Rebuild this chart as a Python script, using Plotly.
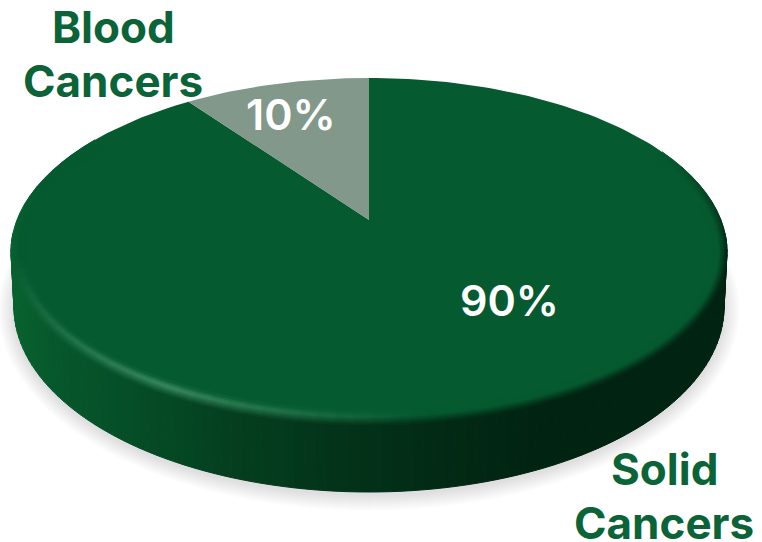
import math
import plotly.graph_objects as go

# Chart data
categories = [["Solid", "Cancers"], ["Blood", "Cancers"]]
shares = [90, 10]
slice_colors = ["#065a30", "#82988a"]
label_color = "#0b6338"

# Disc geometry in pixel-like axis units
CX, CY_APEX = 369.0, 220.0
TOP_EDGE, BOTTOM_EDGE = 78.0, 425.0
HALF_W = 358.0
CY = (TOP_EDGE + BOTTOM_EDGE) / 2
HALF_H = (BOTTOM_EDGE - TOP_EDGE) / 2
BASE_CY, BASE_W, BASE_H = 307.0, 355.0, 185.0

up, down = CY_APEX - TOP_EDGE, BOTTOM_EDGE - CY_APEX
K = (down - up) / (down + up)
B = up * (1 + K)
A = HALF_W * math.sqrt(1 - K * K)


def project(theta):
    """Clockwise angle from twelve o'clock to a point on the tilted top face."""
    x, y = math.sin(theta), math.cos(theta)
    w = 1 + K * y
    return CX + A * x / w, CY_APEX - B * y / w


def hex_rgb(c):
    return tuple(int(c[i:i + 2], 16) for i in (1, 3, 5))


def mix(a, b, f):
    f = max(0.0, min(1.0, f))
    return tuple(a[i] + (b[i] - a[i]) * f for i in range(3))


def css(c):
    return "rgb(%d,%d,%d)" % tuple(round(v) for v in c)


def ramp(stops, x):
    if x <= stops[0][0]:
        return hex_rgb(stops[0][1])
    for (x0, c0), (x1, c1) in zip(stops, stops[1:]):
        if x <= x1:
            return mix(hex_rgb(c0), hex_rgb(c1), (x - x0) / (x1 - x0))
    return hex_rgb(stops[-1][1])


WALL_STOPS = [(10, "#08622f"), (60, "#06572b"), (140, "#054c26"), (230, "#043f1f"),
              (330, "#03341a"), (440, "#022a15"), (540, "#012312"), (730, "#012312")]
FACE = hex_rgb(slice_colors[0])
HIGHLIGHT = hex_rgb("#3a8a60")

fig = go.Figure()


def polygon(xs, ys, fill, line=None):
    fig.add_trace(go.Scatter(
        x=xs, y=ys, mode="lines", fill="toself", fillcolor=fill,
        line=dict(color=line or "rgba(0,0,0,0)", width=1 if line else 0),
        hoverinfo="skip", showlegend=False))


# Soft ground shadow under the disc
for s in range(16, 0, -1):
    ts = [2 * math.pi * i / 120 for i in range(121)]
    polygon([CX + (BASE_W + s) * math.cos(t) for t in ts],
            [BASE_CY + 3 + (BASE_H + s) * math.sin(t) for t in ts],
            "rgba(0,0,0,0.009)")

# Cylinder wall, drawn as narrow strips shaded by horizontal position
N_WALL = 110
for i in range(N_WALL):
    t0 = math.radians(-6 + 192 * i / N_WALL)
    t1 = math.radians(-6 + 192 * (i + 1) / N_WALL)
    xs = [CX + HALF_W * math.cos(t0), CX + HALF_W * math.cos(t1),
          CX + BASE_W * math.cos(t1), CX + BASE_W * math.cos(t0)]
    ys = [CY + HALF_H * math.sin(t0), CY + HALF_H * math.sin(t1),
          BASE_CY + BASE_H * math.sin(t1), BASE_CY + BASE_H * math.sin(t0)]
    c = css(ramp(WALL_STOPS, sum(xs) / 4))
    polygon(xs + xs[:1], ys + ys[:1], c, c)

# Top face slices, running clockwise from twelve o'clock
total = sum(shares)
start = 0.0
for value, color in zip(shares, slice_colors):
    sweep = 2 * math.pi * value / total
    n = max(8, int(240 * value / total))
    pts = [project(start + sweep * j / n) for j in range(n + 1)]
    polygon([CX] + [p[0] for p in pts] + [CX], [CY_APEX] + [p[1] for p in pts] + [CY_APEX], color)
    start += sweep


def bevel_strength(t_deg):
    """How much of the rim lighting applies around the lower edge."""
    if t_deg < 0:
        return max(0.0, 1 + t_deg / 35)
    if t_deg > 185:
        return max(0.0, 1 - (t_deg - 185) / 35)
    return 1.0


def highlight_amount(t_deg):
    # Brightest along the front left of the rim
    if t_deg < 82 or t_deg > 178:
        return 0.0
    if t_deg < 125:
        return (t_deg - 82) / 43
    return (178 - t_deg) / 53


# Bevelled rim: thin ring sectors blending wall, highlight and face colours
PEAK_D = 9.0
FADE_D = 6.0
D_STEPS = 8
T_STEPS = 84
T_FROM, T_TO = -35.0, 220.0
for k in range(D_STEPS):
    d0 = (PEAK_D + FADE_D) * k / D_STEPS
    d1 = (PEAK_D + FADE_D) * (k + 1) / D_STEPS
    dm = (d0 + d1) / 2
    for i in range(T_STEPS):
        ta = T_FROM + (T_TO - T_FROM) * i / T_STEPS
        tb = T_FROM + (T_TO - T_FROM) * (i + 1) / T_STEPS
        tm = (ta + tb) / 2
        r0, r1 = math.radians(ta), math.radians(tb)
        wall = ramp(WALL_STOPS, CX + HALF_W * math.cos(math.radians(tm)))
        strength = bevel_strength(tm)
        peak = mix(FACE, HIGHLIGHT, highlight_amount(tm))
        if dm < PEAK_D:
            col = mix(wall, peak, dm / PEAK_D)
        else:
            col = mix(peak, FACE, (dm - PEAK_D) / FADE_D)
        col = css(mix(FACE, col, strength))
        xs = [CX + (HALF_W - d0) * math.cos(r0), CX + (HALF_W - d0) * math.cos(r1),
              CX + (HALF_W - d1) * math.cos(r1), CX + (HALF_W - d1) * math.cos(r0)]
        ys = [CY + (HALF_H - d0) * math.sin(r0), CY + (HALF_H - d0) * math.sin(r1),
              CY + (HALF_H - d1) * math.sin(r1), CY + (HALF_H - d1) * math.sin(r0)]
        polygon(xs + xs[:1], ys + ys[:1], col, col)

# Percentage labels on the slices and two-line category labels beside them
pct_at = [(509, 300), (291, 114)]
cat_at = [(664, 469), (113, 27)]
LINE_STEP = 54
annotations = []
for value, lines, (px, py), (qx, qy) in zip(shares, categories, pct_at, cat_at):
    annotations.append(dict(x=px, y=py, text=f"{value}%", showarrow=False,
                            font=dict(family="Inter", size=43, color="white", weight=600)))
    for j, line in enumerate(lines):
        annotations.append(dict(x=qx, y=qy + j * LINE_STEP, text=line, showarrow=False,
                                font=dict(family="Inter", size=44, color=label_color, weight=700)))

fig.update_layout(
    width=762, height=542, margin=dict(l=0, r=0, t=0, b=0),
    paper_bgcolor="white", plot_bgcolor="white", showlegend=False,
    xaxis=dict(range=[0, 762], visible=False, fixedrange=True),
    yaxis=dict(range=[542, 0], visible=False, fixedrange=True),
    annotations=annotations,
)

fig.write_html("out.html")
